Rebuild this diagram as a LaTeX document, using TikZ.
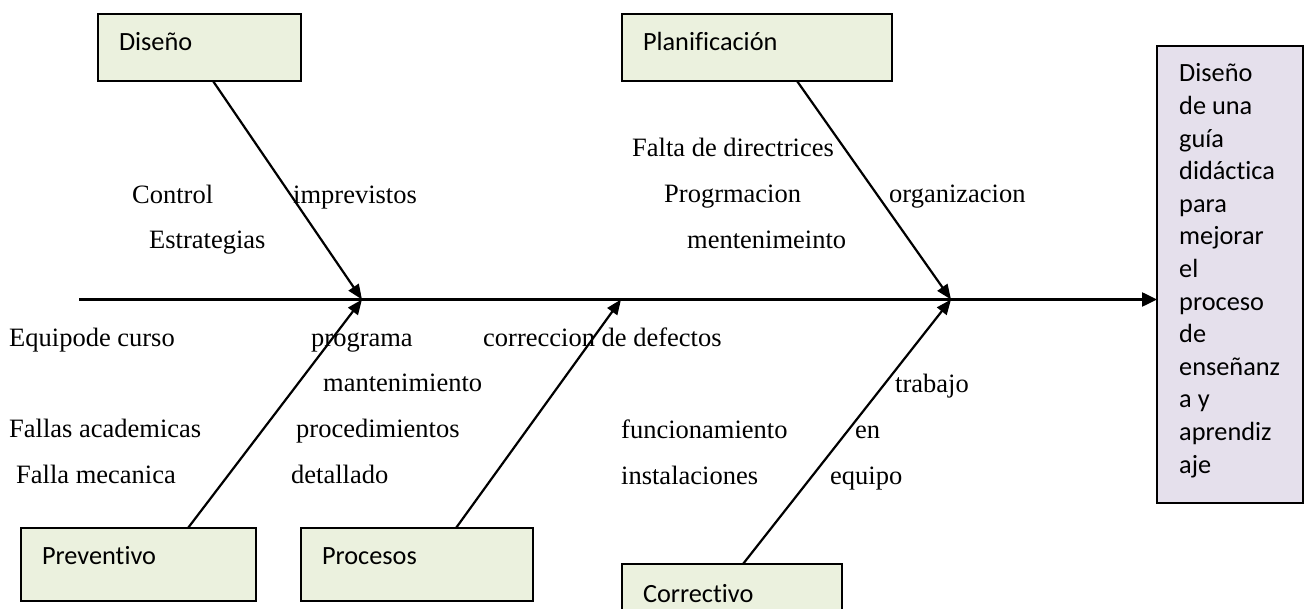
\documentclass[tikz,border=0pt]{standalone}
\usepackage{fontspec}
\setmainfont{Liberation Serif}
\newfontfamily\calibri{Carlito}[Ligatures=NoCommon]
\usetikzlibrary{arrows.meta}
\definecolor{causefill}{RGB}{235,241,222}
\definecolor{goalfill}{RGB}{229,224,236}
\begin{document}
\begin{tikzpicture}[x=1pt,y=-1pt,
  causebox/.style={draw=black, line width=1.6pt, fill=causefill, anchor=north west,
    outer sep=0pt, inner xsep=21pt, inner ysep=0pt,
    font=\calibri\fontsize{26.3}{32}\selectfont},
  goalbox/.style={draw=black, line width=1.6pt, fill=goalfill, anchor=north west,
    outer sep=0pt, inner sep=0pt, minimum width=146pt, minimum height=457pt},
  goaltxt/.style={anchor=base west, inner sep=0pt, font=\calibri\fontsize{26.3}{32}\selectfont},
  lbl/.style={anchor=base west, inner sep=0pt, font=\fontsize{26.5}{32}\selectfont},
  bone/.style={line width=2.2pt, -{Triangle[length=15pt,width=12pt]}},
  spine/.style={line width=2.5pt, -{Triangle[length=15pt,width=14pt]}}]
\useasboundingbox (0,0) rectangle (1310,609);
\clip (0,0) rectangle (1310,609);

% cause boxes
\node[causebox, text width=161pt, text height=37pt, text depth=30pt] (dis) at (98,14) {Diseño};
\node[causebox, text width=228pt, text height=37pt, text depth=30pt] (pla) at (622,14) {Planificación};
\node[causebox, text width=193pt, text height=36pt, text depth=37pt] (pre) at (21,528) {Preventivo};
\node[causebox, text width=190pt, text height=36pt, text depth=37pt] (pro) at (301,528) {Procesos};
\node[causebox, text width=178pt, text height=38pt, text depth=35pt] (cor) at (622,564) {Correctivo};

% effect box
\node[goalbox] (goal) at (1157,46) {};
\foreach \t [count=\i from 0] in {Diseño,de una,guía,didáctica,para,mejorar,el,proceso,de,enseñanz,a y,aprendiz,aje}
  \node[goaltxt] (g\i) at (1179,{82+32.6*\i}) {\t};

% spine
\coordinate (tail) at (79,299.5);
\coordinate (j1) at (362,299.5);
\coordinate (j2) at (621,299.5);
\coordinate (j3) at (951,299.5);
\draw[spine] (tail) -- (tail -| goal.west);

% bones
\draw[bone] ([xshift=13.5pt]dis.south) -- (j1);
\draw[bone] ([xshift=49.5pt]pre.north) -- (j1);
\draw[bone] ([xshift=39pt]pro.north) -- (j2);
\draw[bone] ([xshift=40pt]pla.south) -- (j3);
\draw[bone] ([xshift=11pt]cor.north) -- (j3);

% labels
\node[lbl] (l1) at (132,204) {Control};
\node[lbl] (l2) at (293,204) {imprevistos};
\node[lbl] (l3) at (149,249) {Estrategias};
\node[lbl] (l4) at (632,157) {Falta de directrices};
\node[lbl] (l5) at (664,203) {Progrmacion};
\node[lbl] (l6) at (889,203) {organizacion};
\node[lbl] (l7) at (687,249) {mentenimeinto};
\node[lbl] (l8) at (9,347) {Equipode curso};
\node[lbl] (l9) at (311,347) {programa};
\node[lbl] (l10) at (483,347) {correccion de defectos};
\node[lbl] (l11) at (323,392) {mantenimiento};
\node[lbl] (l12) at (895,393) {trabajo};
\node[lbl] (l13) at (9,438) {Fallas academicas};
\node[lbl] (l14) at (296,438) {procedimientos};
\node[lbl] (l15) at (621,439) {funcionamiento};
\node[lbl] (l16) at (855,439) {en};
\node[lbl] (l17) at (16,484) {Falla mecanica};
\node[lbl] (l18) at (291,484) {detallado};
\node[lbl] (l19) at (621,485) {instalaciones};
\node[lbl] (l20) at (830,485) {equipo};
\end{tikzpicture}
\end{document}
